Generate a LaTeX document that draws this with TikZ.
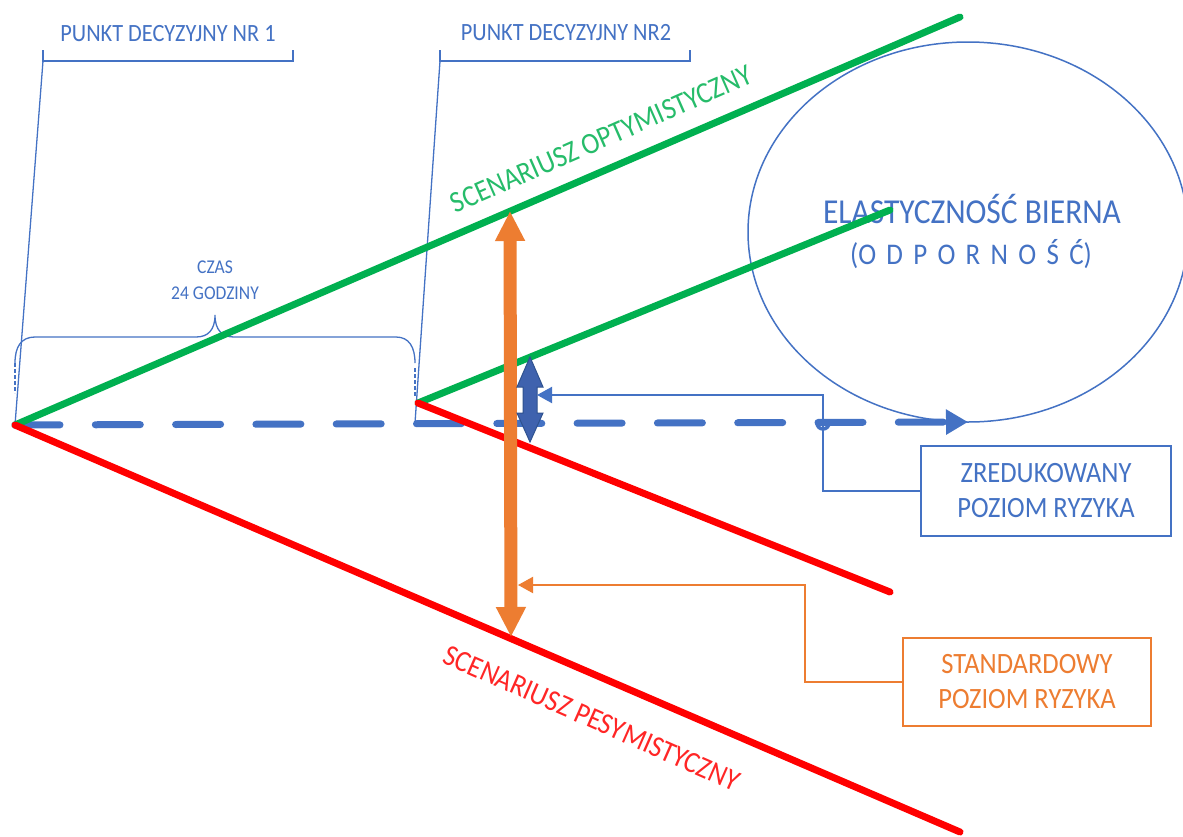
\documentclass[tikz,border=0pt]{standalone}
\usepackage{fontspec}
\setmainfont{Carlito}[FakeStretch=0.9]
\usetikzlibrary{arrows.meta,shapes.geometric}
\definecolor{bl}{HTML}{4472C4}
\definecolor{dbl}{HTML}{3F62AE}
\definecolor{dbldraw}{HTML}{2F528F}
\definecolor{orng}{HTML}{ED7D31}
\definecolor{grn}{HTML}{00B050}
\definecolor{rd}{HTML}{FF0000}
\begin{document}
\begin{tikzpicture}[x=1pt,y=-1pt,
  lbl/.style={inner sep=0pt, font=\fontsize{#1}{#1}\selectfont},
  scen/.style={line width=7pt, line cap=round},
  thinblue/.style={draw=bl, line width=1.3pt},
  boxnode/.style={draw=#1, text=#1, line width=2pt, align=center, inner sep=0pt,
    font=\fontsize{29.5}{35}\selectfont},
  callout/.style={draw=#1, line width=2pt, -{Triangle[length=15pt,width=16pt]}}
]
\useasboundingbox[fill=white] (0,0) rectangle (1183,836);

% key points of the diagram
\coordinate (O)   at (15,425);
\coordinate (O2)  at (418,403);
\coordinate (g1)  at (960,17);
\coordinate (r1)  at (960,832);
\coordinate (g2)  at (890,210);
\coordinate (r2)  at (890,592);
\coordinate (dashend) at (968,422);

% passive resilience area
\node[ellipse, draw=bl, line width=1.5pt, minimum width=440pt, minimum height=380pt,
      inner sep=0pt] (res) at (968,232) {};
\node[lbl=35, text=bl, anchor=base] (res1) at (972,223) {ELASTYCZNOŚĆ BIERNA};
\node[lbl=30, text=bl, anchor=base] (res2) at (971,264)
  {{\spaceskip=10.3pt (O D P O R N O Ś Ć)}};

% decision point brackets
\coordinate (d1l) at (43,61);
\coordinate (d1r) at (293,61);
\coordinate (d2l) at (440,61);
\coordinate (d2r) at (690,61);
\draw[thinblue] (d1l) ++(0,-11) -- (d1l) -- (d1r) -- ++(0,-11);
\draw[thinblue] (d2l) ++(0,-11) -- (d2l) -- (d2r) -- ++(0,-11);
\draw[thinblue] (d1l) -- (O);
\draw[thinblue] (d2l) -- (415,423);
\node[lbl=24.8, text=bl, anchor=base] (dp1) at (168,41) {PUNKT DECYZYJNY NR 1};
\node[lbl=24.8, text=bl, anchor=base] (dp2) at (566,40) {PUNKT DECYZYJNY NR2};

% time brace between the two decision points
\draw[thinblue] (15,363) .. controls (15,347) and (21,337) .. (35,337) -- (196,337)
  .. controls (208,337) and (215,330) .. (215,315)
  .. controls (215,330) and (222,337) .. (234,337) -- (396,337)
  .. controls (409,337) and (415,347) .. (415,363);
\draw[thinblue, dash pattern=on 4pt off 2pt] (15,363) -- (15,393);
\draw[thinblue, dash pattern=on 4pt off 2pt] (415,368) -- (415,397);
\node[text=bl, align=center, inner sep=0pt, font=\fontsize{19.5}{26}\selectfont]
  (czas) at (215,280) {CZAS\\24 GODZINY};

% time axis
\draw[bl, line width=7pt, line cap=round, dash pattern=on 45pt off 35.3pt,
      -{Triangle[length=22pt,width=24pt]}] (O) -- (dashend);
\draw[bl, line width=3.5pt] (817,423) arc[start angle=180, end angle=0, radius=6];

% scenario lines
\draw[grn, scen] (O) -- (g1);
\draw[rd, scen] (O) -- (r1);
\draw[grn, scen] (O2) -- (g2);
\draw[rd, scen] (O2) -- (r2);

\node[lbl=30, text=grn!85, anchor=base, rotate=23.7] (opt) at (605,148)
  {SCENARIUSZ OPTYMISTYCZNY};
\node[lbl=30, text=rd!85, anchor=base, rotate=-23.8] (pes) at (588,727)
  {SCENARIUSZ PESYMISTYCZNY};

% standard risk span
\coordinate (otop) at (510,211);
\coordinate (obot) at (511,637);
\draw[orng, line width=13pt,
  {Triangle[length=30pt,width=28pt]}-{Triangle[length=30pt,width=28pt]}] (otop) -- (obot);

% reduced risk span
\coordinate (btop) at (530,357);
\filldraw[fill=dbl, draw=dbldraw, line width=1pt, line join=miter]
  (btop) -- ++(13,30) -- ++(-6,0) -- ++(0,26) -- ++(6,0) -- (530,442)
  -- (517,413) -- ++(6,0) -- ++(0,-26) -- ++(-6,0) -- cycle;

% callout boxes
\node[boxnode=bl, minimum width=250pt, minimum height=90pt] (zred) at (1046,491)
  {ZREDUKOWANY\\POZIOM RYZYKA};
\node[boxnode=orng, minimum width=248pt, minimum height=88pt] (stand) at (1027,682)
  {STANDARDOWY\\POZIOM RYZYKA};

\coordinate (zredturn) at (823,395);
\coordinate (zredtip)  at (537,395);
\coordinate (standturn) at (805,585);
\coordinate (standtip)  at (518,585);
\draw[callout=bl] (zred.west) -| (zredturn) -- (zredtip);
\draw[callout=orng] (stand.west) -| (standturn) -- (standtip);
\end{tikzpicture}
\end{document}
